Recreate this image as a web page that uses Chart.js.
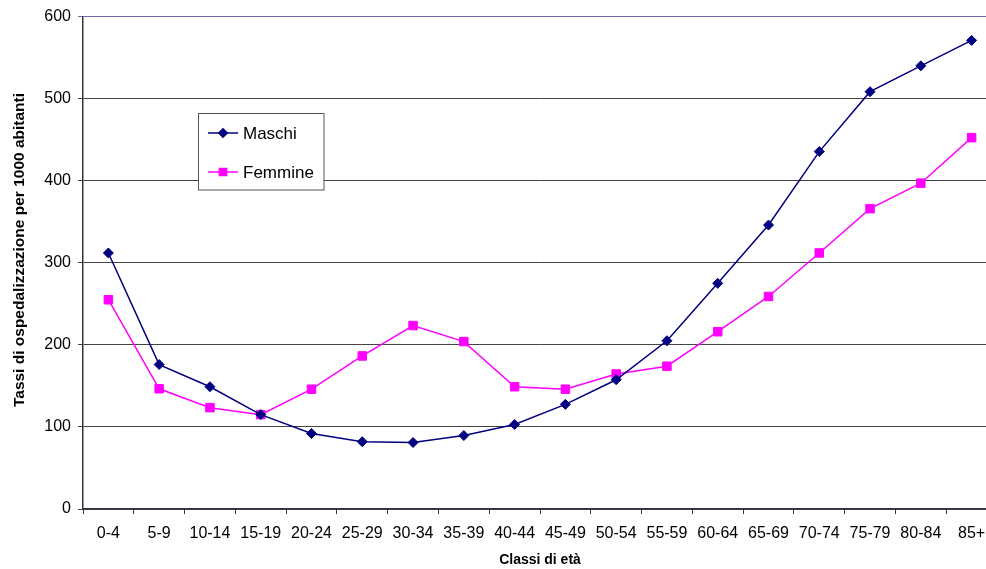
<!DOCTYPE html>
<html>
<head>
<meta charset="utf-8">
<script src="https://cdn.jsdelivr.net/npm/chart.js@4/dist/chart.umd.min.js"></script>
<style>
  html, body { margin: 0; padding: 0; background: #fff; overflow: hidden; }
  #wrap { width: 1004px; height: 569px; position: relative; }
</style>
</head>
<body>
<div id="wrap"><canvas id="c" width="1004" height="569"></canvas></div>
<script>
// Fasce d'età
const classi = ['0-4','5-9','10-14','15-19','20-24','25-29','30-34','35-39','40-44','45-49',
                '50-54','55-59','60-64','65-69','70-74','75-79','80-84','85+'];
// Tassi di ospedalizzazione per 1000 abitanti
const maschi  = [312, 176, 149, 115, 92, 82, 81, 89.5, 103, 127.5, 157.5, 205, 275, 346, 435.5, 508.5, 540, 571];
const femmine = [255, 146.5, 123.5, 115, 146, 186.5, 223.5, 204, 149, 146, 164.5, 174, 216, 259, 312, 366, 397, 452.5];
const yTicks  = [0, 100, 200, 300, 400, 500, 600];

const FONT = "'Liberation Sans', Arial, sans-serif";

// Legenda in riquadro e titolo verticale dell'asse Y
const decor = {
  id: 'decor',
  afterDraw(chart) {
    const ctx = chart.ctx;
    ctx.save();
    // titolo asse Y
    ctx.translate(20, 250);
    ctx.rotate(-Math.PI / 2);
    ctx.font = "bold 15.5px " + FONT;
    ctx.fillStyle = '#000';
    ctx.textAlign = 'center';
    ctx.textBaseline = 'middle';
    ctx.fillText('Tassi di ospedalizzazione per 1000 abitanti', 0, 0);
    ctx.restore();

    // riquadro legenda
    ctx.save();
    const bx = 198.5, by = 113.5, bw = 125.5, bh = 76.5;
    ctx.fillStyle = '#fff';
    ctx.fillRect(bx, by, bw, bh);
    ctx.strokeStyle = '#555';
    ctx.lineWidth = 1;
    ctx.strokeRect(bx, by, bw, bh);
    const rows = [133, 172];
    chart.data.datasets.forEach((ds, i) => {
      const y = rows[i];
      ctx.strokeStyle = ds.borderColor;
      ctx.lineWidth = 1.5;
      ctx.beginPath();
      ctx.moveTo(208, y);
      ctx.lineTo(238, y);
      ctx.stroke();
      Chart.helpers.drawPoint(ctx, {
        pointStyle: ds.pointStyle,
        radius: ds.pointRadius * 0.85,
        borderWidth: 1
      }, 223, y);
      ctx.fillStyle = ds.pointBackgroundColor;
      ctx.strokeStyle = ds.pointBorderColor;
      ctx.fill();
      ctx.fillStyle = '#000';
      ctx.font = "17px " + FONT;
      ctx.textAlign = 'left';
      ctx.textBaseline = 'middle';
      ctx.fillText(ds.label, 243, y + 1);
    });
    ctx.restore();
  }
};

new Chart(document.getElementById('c'), {
  type: 'line',
  data: {
    labels: classi,
    datasets: [
      {
        label: 'Maschi',
        data: maschi,
        borderColor: '#000080',
        backgroundColor: '#000080',
        pointBackgroundColor: '#000080',
        pointBorderColor: '#000080',
        borderWidth: 1.5,
        pointStyle: 'rectRot',
        pointRadius: 5,
        pointBorderWidth: 1,
        tension: 0
      },
      {
        label: 'Femmine',
        data: femmine,
        borderColor: '#ff00ff',
        backgroundColor: '#ff00ff',
        pointBackgroundColor: '#ff00ff',
        pointBorderColor: '#ff00ff',
        borderWidth: 1.5,
        pointStyle: 'rect',
        pointRadius: 6,
        pointBorderWidth: 1,
        tension: 0
      }
    ]
  },
  options: {
    responsive: false,
    animation: false,
    layout: { padding: { left: 0, right: 3, top: 15, bottom: 0 } },
    plugins: {
      legend: { display: false },
      tooltip: { enabled: false }
    },
    scales: {
      x: {
        offset: true,
        grid: {
          offset: true,
          drawOnChartArea: false,
          drawTicks: true,
          tickLength: 5,
          color: '#333'
        },
        border: { color: '#333344', width: 1.5 },
        ticks: {
          color: '#000',
          font: { family: FONT, size: 16 },
          padding: 10,
          maxRotation: 0,
          autoSkip: false
        },
        title: {
          display: true,
          text: 'Classi di età',
          color: '#000',
          font: { family: FONT, size: 14, weight: 'bold' },
          padding: { top: 0, bottom: 0 }
        },
        afterFit(scale) { scale.height = 60; }
      },
      y: {
        min: 0,
        max: 600,
        afterBuildTicks(scale) { scale.ticks = yTicks.map(v => ({ value: v })); },
        grid: {
          drawTicks: true,
          tickLength: 5,
          lineWidth: 1,
          color: ctx => (ctx.tick && ctx.tick.value === 600) ? '#6a6aa8' : '#444'
        },
        border: { color: '#333344', width: 1.5 },
        ticks: {
          color: '#000',
          font: { family: FONT, size: 16 },
          padding: 7
        },
        afterFit(scale) { scale.width = 83; }
      }
    }
  },
  plugins: [decor]
});
</script>
</body>
</html>
